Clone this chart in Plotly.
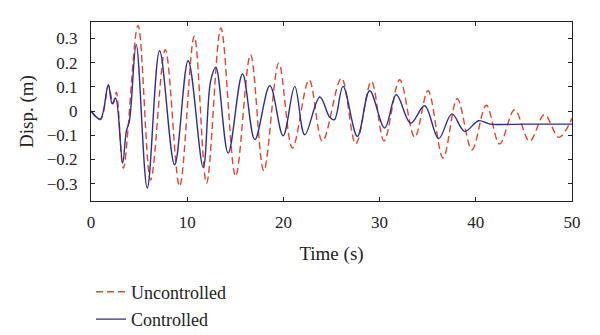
import plotly.graph_objects as go

# Controlled (solid blue) - read extrema / key points
t_ctl = [0, 0.97, 1.8, 2.2, 2.56, 3.29, 3.67, 4.0, 4.7, 5.85, 7.13, 8.69, 10.1, 11.66,
         12.43, 12.98, 14.26, 15.75, 17.03, 18.59, 19.97, 21.18, 22.22, 23.78, 24.82,
         25.3, 26.2, 27.69, 28.97, 30.53, 31.74, 33.23, 34.68, 36.14, 37.52, 38.84,
         40.3, 41.5, 45, 50]
y_ctl = [0, -0.033, 0.109, 0.03, 0.054, -0.215, -0.084, -0.04, 0.274, -0.318, 0.249,
         -0.222, 0.208, -0.233, 0.123, 0.181, -0.174, 0.153, -0.118, 0.105, -0.102,
         0.102, -0.098, 0.058, -0.026, -0.036, 0.102, -0.105, 0.084, -0.07, 0.067,
         -0.05, 0.022, -0.114, -0.012, -0.084, -0.04, -0.054, -0.054, -0.054]

# Uncontrolled (dashed red)
t_unc = [0, 1.0, 1.8, 2.3, 2.63, 3.36, 4.88, 6.2, 7.72, 9.21, 10.73, 12.01, 13.5, 15.03,
         16.58, 17.96, 19.52, 20.94, 22.67, 24.06, 26.03, 27.52, 29.15, 30.46, 32.09,
         33.65, 35.03, 36.6, 38.07, 39.6, 41.09, 42.47, 44.03, 45.59, 47.14, 48.63, 50]
y_unc = [0, -0.035, 0.105, 0.03, 0.078, -0.236, 0.354, -0.285, 0.253, -0.311, 0.309,
         -0.298, 0.343, -0.27, 0.233, -0.247, 0.198, -0.153, 0.129, -0.125, 0.136,
         -0.136, 0.123, -0.123, 0.129, -0.109, 0.084, -0.194, 0.051, -0.16, 0.024,
         -0.136, 0.005, -0.125, -0.015, -0.109, -0.03]

x_ticks = [0, 10, 20, 30, 40, 50]
y_ticks = [-0.3, -0.2, -0.1, 0, 0.1, 0.2, 0.3]

RED = "#e4432c"
BLUE = "#2e2e8e"
FONT = "Liberation Serif"

fig = go.Figure()
fig.add_trace(go.Scatter(x=t_unc, y=y_unc, mode="lines", name="Uncontrolled",
                         legendgroup="a",
                         line=dict(color=RED, width=1.4, dash="7px,4px", shape="spline",
                                   smoothing=1)))
fig.add_trace(go.Scatter(x=t_ctl, y=y_ctl, mode="lines", name="Controlled",
                         legendgroup="b",
                         line=dict(color=BLUE, width=1.4, shape="spline", smoothing=1)))

axis_common = dict(showline=True, linecolor="#222", linewidth=1, mirror="ticks",
                   ticks="inside", ticklen=4, tickcolor="#222", showgrid=False,
                   zeroline=False, automargin=False,
                   tickfont=dict(family=FONT, size=17, color="#222"))

fig.update_layout(
    width=600, height=335,
    margin=dict(l=91, r=28, t=22, b=134, autoexpand=False),
    paper_bgcolor="white", plot_bgcolor="white",
    font=dict(family=FONT, size=17, color="#222"),
    xaxis=dict(range=[0, 50], tickvals=x_ticks, ticklabelstandoff=6,
               title=dict(text="Time (s)", font=dict(family=FONT, size=19), standoff=15),
               **axis_common),
    yaxis=dict(range=[-0.372, 0.368], tickvals=y_ticks, ticklabelstandoff=9,
               title=dict(text="Disp. (m)", font=dict(family=FONT, size=19), standoff=8),
               **axis_common),
    legend=dict(x=0.0, y=-0.405, xanchor="left", yanchor="top",
                orientation="v", traceorder="grouped", tracegroupgap=1,
                font=dict(family=FONT, size=18, color="#222"),
                bgcolor="rgba(0,0,0,0)"),
    showlegend=True,
)

fig.write_html("out.html")
